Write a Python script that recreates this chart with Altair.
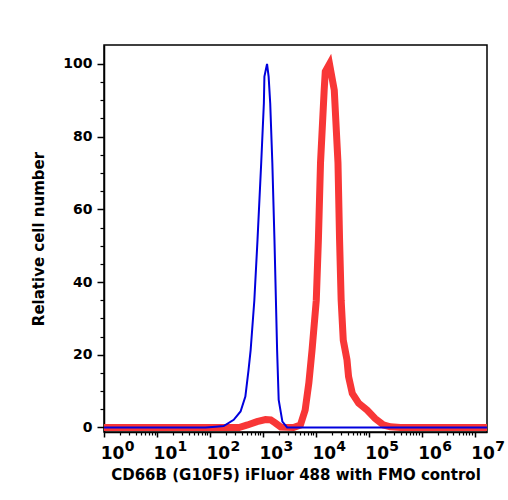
import altair as alt
import pandas as pd

# FMO control (blue): fluorescence intensity vs relative cell number
fmo_intensity = [1, 10, 83, 129, 182, 282, 380, 468, 537, 589, 692, 794, 933, 1047, 1072,
                 1202, 1288, 1380, 1514, 1660, 1862, 1995, 2344, 2884, 10000, 18000000]
fmo_count = [0, 0, 0, 0.2, 0.4, 2.1, 4.4, 8.5, 15.8, 21.3, 35, 51.6, 72.8, 89.2, 96.5,
             100, 96.5, 89.2, 72.7, 51.6, 21.3, 7.6, 1.6, 0, 0, 0]

# CD66B stained (red)
cd66b_intensity = [1, 100, 355, 513, 776, 1122, 1413, 1738, 2188, 3802, 5129, 6310, 7413, 8511,
                   10233, 11220, 12303, 14454, 15136, 18197, 22387, 26303, 28184, 30200, 33113,
                   38905, 41687, 48978, 64565, 93325, 131826, 190546, 257040, 398107, 18000000]
cd66b_count = [0, 0, 0, 0.7, 1.6, 2.2, 2.1, 1.2, 0.1, 0, 0.7, 4.8, 12.3, 21.3,
               35, 51.6, 72.8, 93, 97.9, 100, 92.8, 72.8, 51.6, 35, 24,
               18.6, 14, 9.4, 6.7, 4.8, 2.5, 0.7, 0.2, 0, 0]

major_x = [1, 10, 100, 1000, 10000, 100000, 1000000, 10000000]
minor_x = [k * 10 ** n for n in range(7) for k in range(2, 10)]
major_y = [0, 20, 40, 60, 80, 100]
minor_y = [5, 10, 15, 25, 30, 35, 45, 50, 55, 65, 70, 75, 85, 90, 95]

x_title = "CD66B (G10F5) iFluor 488 with FMO control"
y_title = "Relative cell number"

fmo_df = pd.DataFrame({"intensity": fmo_intensity, "count": fmo_count})
cd_df = pd.DataFrame({"intensity": cd66b_intensity, "count": cd66b_count})

FONT = "DejaVu Sans"
xscale = alt.Scale(type="log", domain=[1, 17179084], nice=False)
yscale = alt.Scale(domain=[-1.24, 105.2], nice=False, zero=False)

axis_x_major = alt.Axis(
    orient="bottom", values=major_x, labelExpr="'10'", tickSize=5, tickWidth=1.5,
    tickColor="black", domain=True, domainColor="black", domainWidth=1.5,
    labelFont=FONT, labelFontWeight="bold", labelFontSize=17, labelColor="black",
    labelOffset=8, labelBaseline="alphabetic", labelPadding=21, labelFlush=False,
    labelOverlap=False, grid=False, title=x_title, titleFont=FONT, titleFontSize=15,
    titleFontWeight="bold", titleColor="black", titlePadding=6)
axis_x_exp = alt.Axis(
    orient="bottom", values=major_x, labelExpr="'' + round(log(datum.value)/LN10)",
    ticks=False, tickSize=0, domain=False, labelFont=FONT, labelFontWeight="bold",
    labelFontSize=14, labelColor="black", labelOffset=25, labelBaseline="alphabetic",
    labelPadding=18, labelFlush=False, labelOverlap=False, grid=False, title="")
axis_x_minor = alt.Axis(
    orient="bottom", values=minor_x, tickSize=3, tickWidth=1.2, tickColor="black",
    labels=False, domain=False, grid=False, title="")

axis_y_major = alt.Axis(
    orient="left", values=major_y, tickSize=7, tickWidth=1.5, tickColor="black",
    domain=True, domainColor="black", domainWidth=1.5, labelFont=FONT,
    labelFontWeight="bold", labelFontSize=14, labelColor="black", labelPadding=5,
    grid=False, title=y_title, titleFont=FONT, titleFontSize=15, titleFontWeight="bold",
    titleColor="black", titlePadding=16)
axis_y_minor = alt.Axis(
    orient="left", values=minor_y, tickSize=4, tickWidth=1.2, tickColor="black",
    labels=False, domain=False, grid=False, title="")

red = alt.Chart(cd_df).mark_line(color="#f83636", strokeWidth=7, clip=True).encode(
    x=alt.X("intensity:Q", scale=xscale, axis=axis_x_major),
    y=alt.Y("count:Q", scale=yscale, axis=axis_y_major),
)
blue = alt.Chart(fmo_df).mark_line(color="#0000dd", strokeWidth=2, clip=True).encode(
    x=alt.X("intensity:Q", scale=xscale, axis=axis_x_exp),
    y=alt.Y("count:Q", scale=yscale, axis=axis_y_minor),
)
dummy = alt.Chart(fmo_df).mark_line(opacity=0, clip=True).encode(
    x=alt.X("intensity:Q", scale=xscale, axis=axis_x_minor),
    y=alt.Y("count:Q", scale=yscale, axis=None),
)

chart = alt.layer(red, blue, dummy).resolve_axis(x="independent", y="independent").properties(
    width=383, height=387,
    padding={"left": 104, "top": 45, "right": 21, "bottom": 68},
    autosize=alt.AutoSizeParams(type="none"),
    background="white",
).configure_view(stroke="black", strokeWidth=1.5)

chart.save("out.html", embed_options={"renderer": "svg", "actions": False})
